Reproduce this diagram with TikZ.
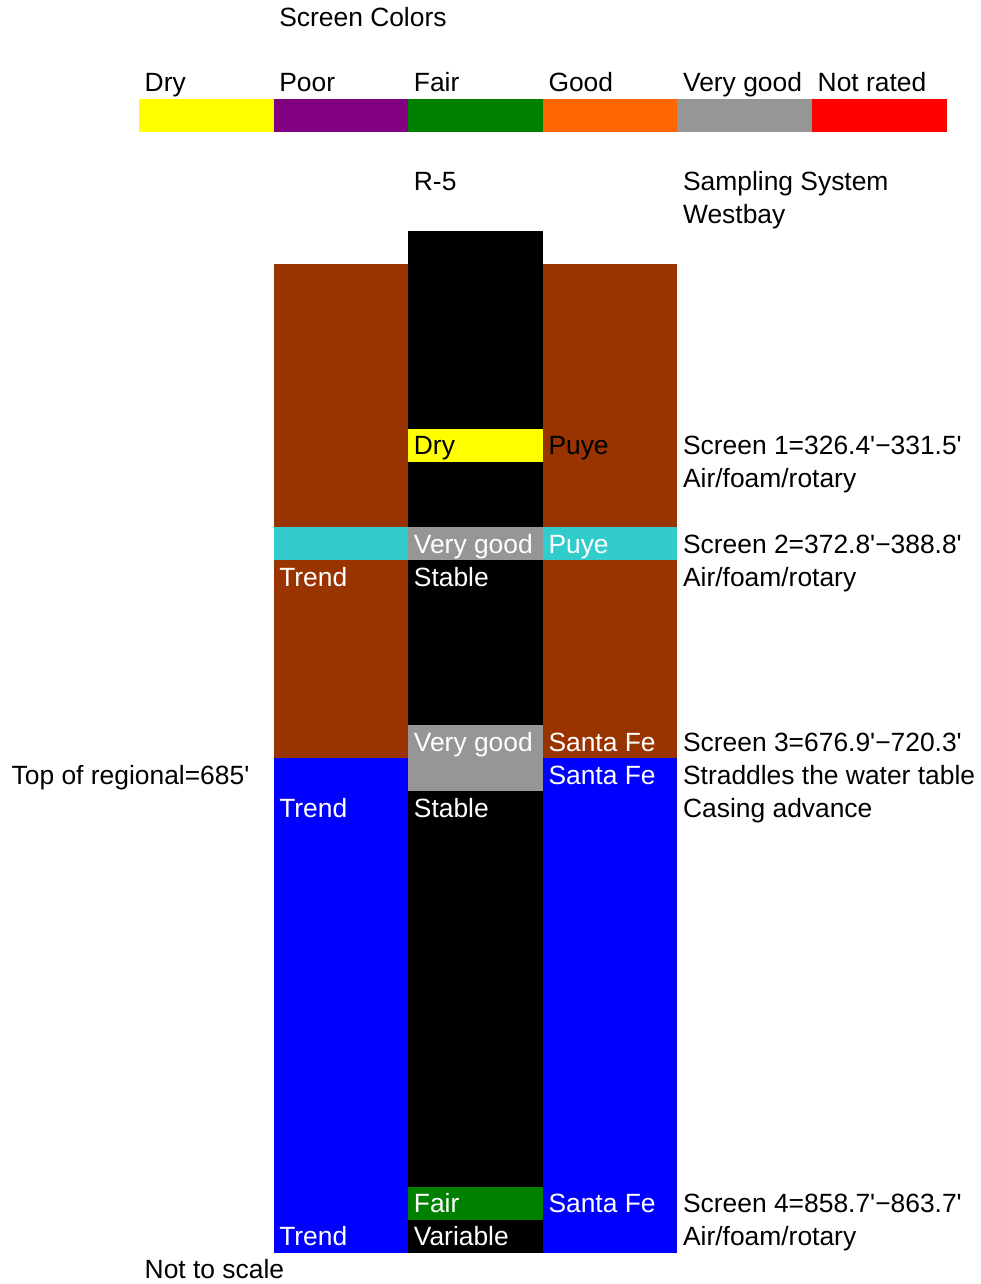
\documentclass[tikz,border=0pt]{standalone}
\usepackage{fontspec}
\setmainfont{Liberation Sans}[Ligatures=TeXOff]
\definecolor{cbrown}{HTML}{993300}
\definecolor{ccyan}{HTML}{33CCCC}
\definecolor{cgray}{HTML}{969696}
\definecolor{cblue}{HTML}{0000FF}
\definecolor{cyellow}{HTML}{FFFF00}
\definecolor{cpurple}{HTML}{800080}
\definecolor{cgreen}{HTML}{008000}
\definecolor{corange}{HTML}{FF6600}
\definecolor{cred}{HTML}{FF0000}
\def\cx#1{139+134.6*(#1)}
\def\ry#1{-(99+32.96*(#1))}
\def\tb#1{-(99+32.96*((#1)+1))+7}
\tikzset{
  lbl/.style={anchor=base west, inner sep=0pt, font=\fontsize{26.4}{31}\selectfont, text=black},
  wlbl/.style={lbl, text=white},
}
\newcommand\cell[5]{\fill[#5] ({\cx{#1}},{\ry{#3}}) rectangle ({\cx{#2}},{\ry{#4}});}
\begin{document}
\begin{tikzpicture}[x=1pt,y=1pt]
\useasboundingbox (0,0) rectangle (981,-1284);
% colour bar
\cell{0}{1}{0}{1}{cyellow}
\cell{1}{2}{0}{1}{cpurple}
\cell{2}{3}{0}{1}{cgreen}
\cell{3}{4}{0}{1}{corange}
\cell{4}{5}{0}{1}{cgray}
\cell{5}{6}{0}{1}{cred}
% well column
\cell{2}{3}{4}{35}{black}
\cell{1}{2}{5}{20}{cbrown}
\cell{3}{4}{5}{20}{cbrown}
\cell{1}{2}{20}{35}{cblue}
\cell{3}{4}{20}{35}{cblue}
\cell{2}{3}{10}{11}{cyellow}
\cell{1}{2}{13}{14}{ccyan}
\cell{3}{4}{13}{14}{ccyan}
\cell{2}{3}{13}{14}{cgray}
\cell{2}{3}{19}{21}{cgray}
\cell{2}{3}{33}{34}{cgreen}
% texts
\node[lbl] (title) at ({\cx{1}+5.5},{\tb{-3}}) {Screen Colors};
\node[lbl] (kdry) at ({\cx{0}+5.5},{\tb{-1}}) {Dry};
\node[lbl] (kpoor) at ({\cx{1}+5.5},{\tb{-1}}) {Poor};
\node[lbl] (kfair) at ({\cx{2}+5.5},{\tb{-1}}) {Fair};
\node[lbl] (kgood) at ({\cx{3}+5.5},{\tb{-1}}) {Good};
\node[lbl] (kvgood) at ({\cx{4}+5.5},{\tb{-1}}) {Very good};
\node[lbl] (knr) at ({\cx{5}+5.5},{\tb{-1}}) {Not rated};
\node[lbl] (well) at ({\cx{2}+5.5},{\tb{2}}) {R-5};
\node[lbl] (samp) at ({\cx{4}+5.5},{\tb{2}}) {Sampling System};
\node[lbl] (west) at ({\cx{4}+5.5},{\tb{3}}) {Westbay};
% screen 1
\node[lbl] (s1q) at ({\cx{2}+5.5},{\tb{10}}) {Dry};
\node[lbl] (s1f) at ({\cx{3}+5.5},{\tb{10}}) {Puye};
\node[lbl] (s1a) at ({\cx{4}+5.5},{\tb{10}}) {Screen 1=326.4'−331.5'};
\node[lbl] (s1b) at ({\cx{4}+5.5},{\tb{11}}) {Air/foam/rotary};
% screen 2
\node[wlbl] (s2q) at ({\cx{2}+5.5},{\tb{13}}) {Very good};
\node[wlbl] (s2f) at ({\cx{3}+5.5},{\tb{13}}) {Puye};
\node[lbl] (s2a) at ({\cx{4}+5.5},{\tb{13}}) {Screen 2=372.8'−388.8'};
\node[lbl] (s2b) at ({\cx{4}+5.5},{\tb{14}}) {Air/foam/rotary};
\node[wlbl] (s2t) at ({\cx{1}+5.5},{\tb{14}}) {Trend};
\node[wlbl] (s2s) at ({\cx{2}+5.5},{\tb{14}}) {Stable};
% screen 3
\node[wlbl] (s3q) at ({\cx{2}+5.5},{\tb{19}}) {Very good};
\node[wlbl] (s3f) at ({\cx{3}+5.5},{\tb{19}}) {Santa Fe};
\node[lbl] (s3a) at ({\cx{4}+5.5},{\tb{19}}) {Screen 3=676.9'−720.3'};
\node[lbl] (reg) at (11.5,{\tb{20}}) {Top of regional=685'};
\node[wlbl] (s3g) at ({\cx{3}+5.5},{\tb{20}}) {Santa Fe};
\node[lbl] (s3b) at ({\cx{4}+5.5},{\tb{20}}) {Straddles the water table};
\node[wlbl] (s3t) at ({\cx{1}+5.5},{\tb{21}}) {Trend};
\node[wlbl] (s3s) at ({\cx{2}+5.5},{\tb{21}}) {Stable};
\node[lbl] (s3c) at ({\cx{4}+5.5},{\tb{21}}) {Casing advance};
% screen 4
\node[wlbl] (s4q) at ({\cx{2}+5.5},{\tb{33}}) {Fair};
\node[wlbl] (s4f) at ({\cx{3}+5.5},{\tb{33}}) {Santa Fe};
\node[lbl] (s4a) at ({\cx{4}+5.5},{\tb{33}}) {Screen 4=858.7'−863.7'};
\node[wlbl] (s4t) at ({\cx{1}+5.5},{\tb{34}}) {Trend};
\node[wlbl] (s4s) at ({\cx{2}+5.5},{\tb{34}}) {Variable};
\node[lbl] (s4b) at ({\cx{4}+5.5},{\tb{34}}) {Air/foam/rotary};
\node[lbl] (nts) at ({\cx{0}+5.5},{\tb{35}}) {Not to scale};
\end{tikzpicture}
\end{document}
